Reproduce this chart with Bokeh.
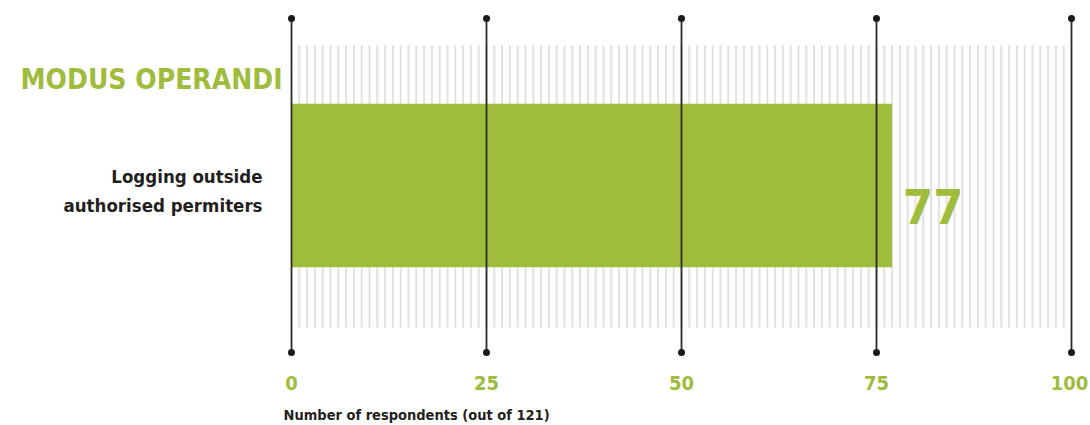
from bokeh.plotting import figure
from bokeh.models import Range1d, ColumnDataSource
from bokeh.core.properties import value
from bokeh.embed import file_html
from bokeh.resources import INLINE

# ---- data ----
title_text = "MODUS OPERANDI"
categories = ["Logging outside authorised permiters"]
label_lines = ["Logging outside", "authorised permiters"]
values = [77]
major_ticks = [0, 25, 50, 75, 100]
tick_labels = ["0", "25", "50", "75", "100"]
minor_ticks = list(range(1, 100))
axis_title = "Number of respondents (out of 121)"

GREEN = "#a0bc3c"
DARK = "#2a2a2a"
LIGHT = "#e2e2e2"
TEXT = "#231f20"
FONT = "DejaVu Sans Condensed, Roboto"

PX = 7.8     # pixels per respondent
PY = 167.0   # pixels per y unit
W, H = 1090, 425
X0, Y0 = 291, 185   # pixel position of x=0 / bar centre

p = figure(width=W, height=H, output_backend="svg", toolbar_location=None,
           x_range=Range1d(-X0 / PX, (W - X0) / PX),
           y_range=Range1d(-(H - Y0) / PY, Y0 / PY),
           min_border=0)
p.outline_line_color = None
p.grid.visible = False
p.axis.visible = False
p.background_fill_color = "white"
p.border_fill_color = "white"

# light minor lines
p.segment(x0=minor_ticks, x1=minor_ticks, y0=[-0.85] * len(minor_ticks), y1=[0.84] * len(minor_ticks),
          line_color=LIGHT, line_width=2)

# bar
src = ColumnDataSource(dict(y=[0.0], right=values, label=[str(v) for v in values]))
p.hbar(y="y", left=0, right="right", height=0.98, source=src, fill_color=GREEN, line_color=None)

# major dark lines with dots
p.segment(x0=major_ticks, x1=major_ticks, y0=[-1.0] * len(major_ticks), y1=[1.0] * len(major_ticks),
          line_color=DARK, line_width=1.8)
p.scatter(x=major_ticks * 2, y=[1.0] * len(major_ticks) + [-1.0] * len(major_ticks),
          size=7, fill_color="#1a1a1a", line_color=None)

# value label
p.text(x="right", y=-0.126, text="label", source=src, x_offset=11,
       text_font=value(FONT), text_font_style="bold", text_font_size="48px",
       text_color=GREEN, text_align="left", text_baseline="alphabetic")

# tick labels
tick_src = ColumnDataSource(dict(x=major_ticks, y=[-1.18] * len(major_ticks), text=tick_labels,
                                 dx=[0, 0, 0, 0, -2]))
p.text(x="x", y="y", text="text", x_offset="dx", source=tick_src,
       text_font=value(FONT), text_font_style="bold", text_font_size="20px",
       text_color=GREEN, text_align="center", text_baseline="alphabetic")

# title
p.text(x=[0], y=[0.635], x_offset=-271, text=[title_text],
       text_font=value(FONT), text_font_style="bold", text_font_size="28px",
       text_color=GREEN, text_align="left", text_baseline="alphabetic")

# category label lines
p.text(x=[0] * len(label_lines), y=[0.054, -0.12],
       x_offset=-29, text=label_lines,
       text_font=value(FONT), text_font_style="bold", text_font_size="18.5px",
       text_color=TEXT, text_align="right", text_baseline="alphabetic")

# axis title
p.text(x=[0], y=[-1.377], x_offset=-8, text=[axis_title],
       text_font=value(FONT), text_font_style="bold", text_font_size="14.5px",
       text_color=TEXT, text_align="left", text_baseline="alphabetic")

open("out.html", "w").write(file_html(p, INLINE))
